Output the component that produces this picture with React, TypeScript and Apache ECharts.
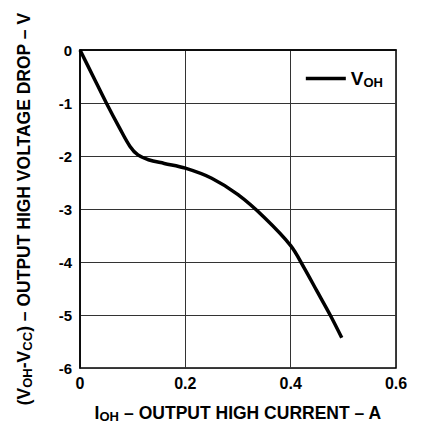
import React, { useEffect, useRef } from "react";
import * as echarts from "echarts";

const currentA = [0, 0.025, 0.05, 0.075, 0.095, 0.11, 0.13, 0.16, 0.2, 0.25, 0.3, 0.35, 0.4, 0.425, 0.45, 0.475, 0.497];
const voltageDrop = [0, -0.5, -1.0, -1.47, -1.82, -1.98, -2.07, -2.14, -2.23, -2.42, -2.73, -3.16, -3.69, -4.1, -4.55, -5.0, -5.43];
const xTicks = [0, 0.2, 0.4, 0.6];
const yTicks = [0, -1, -2, -3, -4, -5, -6];
const seriesName = "VOH";

const FONT = "Liberation Sans, Arial, Helvetica, sans-serif";

export default function App() {
  const ref = useRef<HTMLDivElement>(null);
  useEffect(() => {
    const chart = echarts.init(ref.current!, null, { renderer: "svg" });
    const sub = { fontSize: 13, fontWeight: "bold", fontFamily: FONT, color: "#000", padding: [7, 0, 0, 0] };
    const main = { fontSize: 17.5, fontWeight: "bold", fontFamily: FONT, color: "#000" };
    chart.setOption({
      animation: false,
      backgroundColor: "#fff",
      grid: {
        left: 80,
        right: 29,
        top: 50,
        bottom: 60,
        show: true,
        borderColor: "#000",
        borderWidth: 1.5,
      },
      legend: {
        show: true,
        right: 37,
        top: 64,
        icon: "rect",
        itemWidth: 40,
        itemHeight: 3.5,
        itemGap: 9,
        formatter: () => "{m|V}{s|OH}",
        textStyle: {
          rich: {
            m: { fontSize: 19, fontWeight: "bold", fontFamily: FONT, color: "#000" },
            s: { fontSize: 13, fontWeight: "bold", fontFamily: FONT, color: "#000", padding: [8, 0, 0, 0] },
          },
        },
        data: [{ name: seriesName, itemStyle: { color: "#000" } }],
      },
      xAxis: {
        type: "value",
        min: xTicks[0],
        max: xTicks[xTicks.length - 1],
        interval: 0.2,
        name: "{m|I}{s|OH}{m| – OUTPUT HIGH CURRENT – A}",
        nameLocation: "middle",
        nameGap: 35,
        nameTextStyle: { rich: { m: main, s: sub } },
        axisLine: { show: true, lineStyle: { color: "#000", width: 1.5 } },
        axisTick: { show: false },
        axisLabel: {
          margin: 7,
          fontSize: 16,
          fontWeight: "bold",
          fontFamily: FONT,
          color: "#000",
          formatter: (v: number) => (v === 0 ? "0" : v.toFixed(1)),
        },
        splitLine: { show: true, lineStyle: { color: "#333", width: 1 } },
      },
      yAxis: {
        type: "value",
        min: yTicks[yTicks.length - 1],
        max: yTicks[0],
        interval: 1,
        name: "{m|(V}{s|OH}{m|-V}{s|CC}{m|) – OUTPUT HIGH VOLTAGE DROP – V}",
        nameLocation: "middle",
        nameRotate: 90,
        nameGap: 46,
        nameTextStyle: { rich: { m: main, s: sub } },
        axisLine: { show: true, lineStyle: { color: "#000", width: 1.5 } },
        axisTick: { show: false },
        axisLabel: {
          margin: 8,
          fontSize: 15,
          fontWeight: "bold",
          fontFamily: FONT,
          color: "#000",
        },
        splitLine: { show: true, lineStyle: { color: "#333", width: 1 } },
      },
      series: [
        {
          name: seriesName,
          type: "line",
          data: currentA.map((x, i) => [x, voltageDrop[i]]),
          smooth: 0.35,
          showSymbol: false,
          symbol: "none",
          lineStyle: { color: "#000", width: 3.5 },
          itemStyle: { color: "#000" },
        },
      ],
    });
    return () => chart.dispose();
  }, []);
  return <div ref={ref} style={{ position: "fixed", left: 0, top: 0, width: 425, height: 428 }} />;
}
